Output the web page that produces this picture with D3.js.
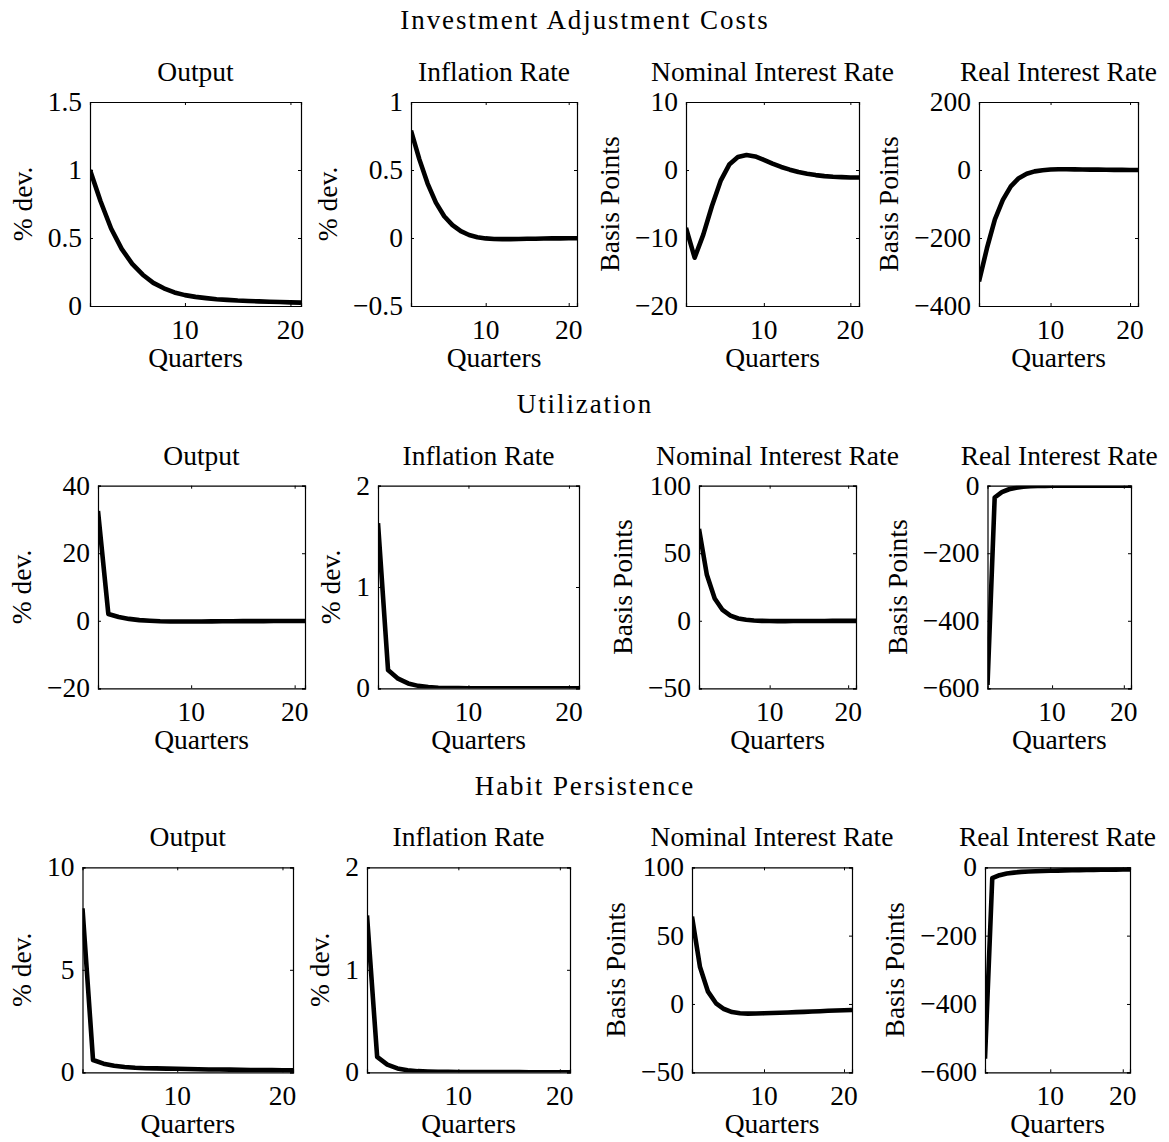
<!DOCTYPE html>
<html>
<head>
<meta charset="utf-8">
<script src="https://cdn.jsdelivr.net/npm/d3@7"></script>
<style>
  html, body { margin: 0; padding: 0; background: #fff; }
  svg { display: block; }
  text { font-family: "Liberation Serif", "Times New Roman", serif; fill: #000; }
</style>
</head>
<body>
<svg id="fig" width="1169" height="1142"></svg>
<script>
// Impulse responses over 21 quarters, three model variants, four variables each.
const quarters = [1, 2, 3, 4, 5, 6, 7, 8, 9, 10, 11, 12, 13, 14, 15, 16, 17, 18, 19, 20, 21];
const xTicks = [10, 20];

// Investment adjustment costs
const iacOutput    = [1.0, 0.77, 0.57, 0.42, 0.31, 0.23, 0.17, 0.13, 0.10, 0.08, 0.067, 0.058, 0.05, 0.045, 0.04, 0.037, 0.034, 0.031, 0.029, 0.027, 0.025];
const iacInflation = [0.79, 0.58, 0.40, 0.26, 0.16, 0.095, 0.05, 0.022, 0.006, -0.003, -0.007, -0.008, -0.008, -0.007, -0.006, -0.005, -0.004, -0.003, -0.003, -0.002, -0.002];
const iacNominal   = [-8.5, -12.9, -9.5, -5.3, -1.6, 0.8, 1.9, 2.2, 2.0, 1.5, 0.95, 0.45, 0.05, -0.3, -0.55, -0.75, -0.9, -1.0, -1.05, -1.1, -1.1];
const iacReal      = [-328, -230, -145, -88, -48, -24, -11, -4, -0.5, 1.5, 2, 2, 1.8, 1.5, 1.2, 1, 0.7, 0.5, 0.3, 0.2, 0.1];

// Utilization
const utilOutput    = [32.5, 2.0, 1.1, 0.55, 0.2, 0.0, -0.15, -0.2, -0.2, -0.2, -0.2, -0.18, -0.16, -0.14, -0.12, -0.1, -0.1, -0.08, -0.08, -0.06, -0.06];
const utilInflation = [1.63, 0.18, 0.095, 0.048, 0.024, 0.012, 0.006, 0.003, 0.0015, 0.001, 0.0008, 0.0006, 0.0005, 0.0004, 0.0003, 0.0002, 0.0002, 0.0001, 0.0001, 0.0001, 0.0001];
const utilNominal   = [68, 34, 16.5, 8, 3.8, 1.7, 0.7, 0.2, -0.05, -0.2, -0.25, -0.25, -0.22, -0.2, -0.17, -0.15, -0.12, -0.1, -0.08, -0.07, -0.06];
const utilReal      = [-590, -35, -19, -10.5, -5.8, -3.2, -1.8, -1.0, -0.5, -0.3, -0.15, -0.1, -0.05, 0, 0, 0, 0, 0, 0, 0, 0];

// Habit persistence
const habitOutput    = [8.0, 0.6, 0.42, 0.32, 0.26, 0.22, 0.2, 0.19, 0.18, 0.17, 0.16, 0.15, 0.14, 0.135, 0.13, 0.12, 0.115, 0.11, 0.105, 0.1, 0.095];
const habitInflation = [1.53, 0.15, 0.075, 0.038, 0.02, 0.011, 0.007, 0.005, 0.004, 0.003, 0.003, 0.002, 0.002, 0.002, 0.0015, 0.0015, 0.001, 0.001, 0.001, 0.001, 0.001];
const habitNominal   = [64, 27, 9, 0.5, -3.7, -5.9, -6.8, -7.1, -7.0, -6.8, -6.6, -6.4, -6.2, -6.0, -5.8, -5.5, -5.3, -5.0, -4.8, -4.6, -4.4];
const habitReal      = [-560, -32, -23, -18, -15.5, -13.5, -12.3, -11.4, -10.7, -10.1, -9.6, -9.1, -8.7, -8.3, -7.9, -7.6, -7.3, -7.0, -6.7, -6.4, -6.2];

// Y-axis ticks per panel
const iacOutputTicks = [0, 0.5, 1, 1.5];
const iacInflationTicks = [-0.5, 0, 0.5, 1];
const iacNominalTicks = [-20, -10, 0, 10];
const iacRealTicks = [-400, -200, 0, 200];
const utilOutputTicks = [-20, 0, 20, 40];
const utilInflationTicks = [0, 1, 2];
const utilNominalTicks = [-50, 0, 50, 100];
const utilRealTicks = [-600, -400, -200, 0];
const habitOutputTicks = [0, 5, 10];
const habitInflationTicks = [0, 1, 2];
const habitNominalTicks = [-50, 0, 50, 100];
const habitRealTicks = [-600, -400, -200, 0];

const sectionTitles = ["Investment Adjustment Costs", "Utilization", "Habit Persistence"];
const panelTitles = ["Output", "Inflation Rate", "Nominal Interest Rate", "Real Interest Rate"];
const yLabels = ["% dev.", "% dev.", "Basis Points", "Basis Points"];
const xLabel = "Quarters";

// Layout: plot-box extents per row
const rowsLayout = [
  { top: 102, bottom: 306, boxes: [[90, 301], [411, 577], [686, 859], [979, 1138]] },
  { top: 485.7, bottom: 688.3, boxes: [[98, 305], [378, 579], [699, 856], [987.5, 1131]] },
  { top: 867.3, bottom: 1072.3, boxes: [[82.5, 293], [367, 570], [692, 852], [985, 1130]] }
];

const rowsData = [
  { series: [iacOutput, iacInflation, iacNominal, iacReal],
    ticks: [iacOutputTicks, iacInflationTicks, iacNominalTicks, iacRealTicks] },
  { series: [utilOutput, utilInflation, utilNominal, utilReal],
    ticks: [utilOutputTicks, utilInflationTicks, utilNominalTicks, utilRealTicks] },
  { series: [habitOutput, habitInflation, habitNominal, habitReal],
    ticks: [habitOutputTicks, habitInflationTicks, habitNominalTicks, habitRealTicks] }
];

const FONT = 27.5;
const TICK = 3;
const svg = d3.select("#fig");
const fmt = v => String(v).replace("-", "\u2212");

rowsLayout.forEach((row, r) => {
  // Section heading
  svg.append("text")
    .attr("x", 585).attr("y", row.top - 72.7)
    .attr("text-anchor", "middle")
    .style("font-size", "27px")
    .style("letter-spacing", "1.9px")
    .text(sectionTitles[r]);

  row.boxes.forEach((bx, c) => {
    const [x0, x1] = bx;
    const values = rowsData[r].series[c];
    const yt = rowsData[r].ticks[c];
    const x = d3.scaleLinear().domain([1, 21]).range([x0, x1]);
    const y = d3.scaleLinear().domain([yt[0], yt[yt.length - 1]]).range([row.bottom, row.top]);
    const g = svg.append("g");
    const clipId = `clip-${r}-${c}`;

    g.append("clipPath").attr("id", clipId)
      .append("rect").attr("x", x0).attr("y", row.top)
      .attr("width", x1 - x0).attr("height", row.bottom - row.top);

    // Response line
    g.append("path")
      .datum(quarters.map((q, i) => [q, values[i]]))
      .attr("clip-path", `url(#${clipId})`)
      .attr("fill", "none")
      .attr("stroke", "#000")
      .attr("stroke-width", 4.6)
      .attr("stroke-linejoin", "round")
      .attr("d", d3.line().x(d => x(d[0])).y(d => y(d[1])));

    // Axes with inward ticks on all four sides
    const axB = d3.axisBottom(x).tickValues(xTicks).tickSize(-TICK).tickFormat("");
    const axT = d3.axisTop(x).tickValues(xTicks).tickSize(-TICK).tickFormat("");
    const axL = d3.axisLeft(y).tickValues(yt).tickSize(-TICK).tickFormat("");
    const axR = d3.axisRight(y).tickValues(yt).tickSize(-TICK).tickFormat("");
    [[axB, `translate(0,${row.bottom})`], [axT, `translate(0,${row.top})`],
     [axL, `translate(${x0},0)`], [axR, `translate(${x1},0)`]].forEach(([ax, tr]) => {
      const a = g.append("g").attr("transform", tr).call(ax);
      a.select(".domain").attr("stroke", "#000").attr("stroke-width", 1.2);
      a.selectAll(".tick line").attr("stroke", "#000").attr("stroke-width", 1);
    });

    // X tick labels
    xTicks.forEach(t => {
      g.append("text").attr("x", x(t)).attr("y", row.bottom + 33)
        .attr("text-anchor", "middle").style("font-size", FONT + "px").text(fmt(t));
    });

    // Y tick labels
    let minLeft = x0;
    yt.forEach(t => {
      const tx = g.append("text").attr("x", x0 - 8).attr("y", y(t))
        .attr("dy", "0.33em").attr("text-anchor", "end")
        .style("font-size", FONT + "px").text(fmt(t));
      minLeft = Math.min(minLeft, tx.node().getBBox().x);
    });

    // Panel title
    g.append("text").attr("x", (x0 + x1) / 2).attr("y", row.top - 21)
      .attr("text-anchor", "middle").style("font-size", FONT + "px").text(panelTitles[c]);

    // X label
    g.append("text").attr("x", (x0 + x1) / 2).attr("y", row.bottom + 61)
      .attr("text-anchor", "middle").style("font-size", FONT + "px").text(xLabel);

    // Y label
    const ly = (row.top + row.bottom) / 2;
    g.append("text")
      .attr("transform", `translate(${minLeft - 16},${ly}) rotate(-90)`)
      .attr("text-anchor", "middle").style("font-size", FONT + "px").text(yLabels[c]);
  });
});
</script>
</body>
</html>
